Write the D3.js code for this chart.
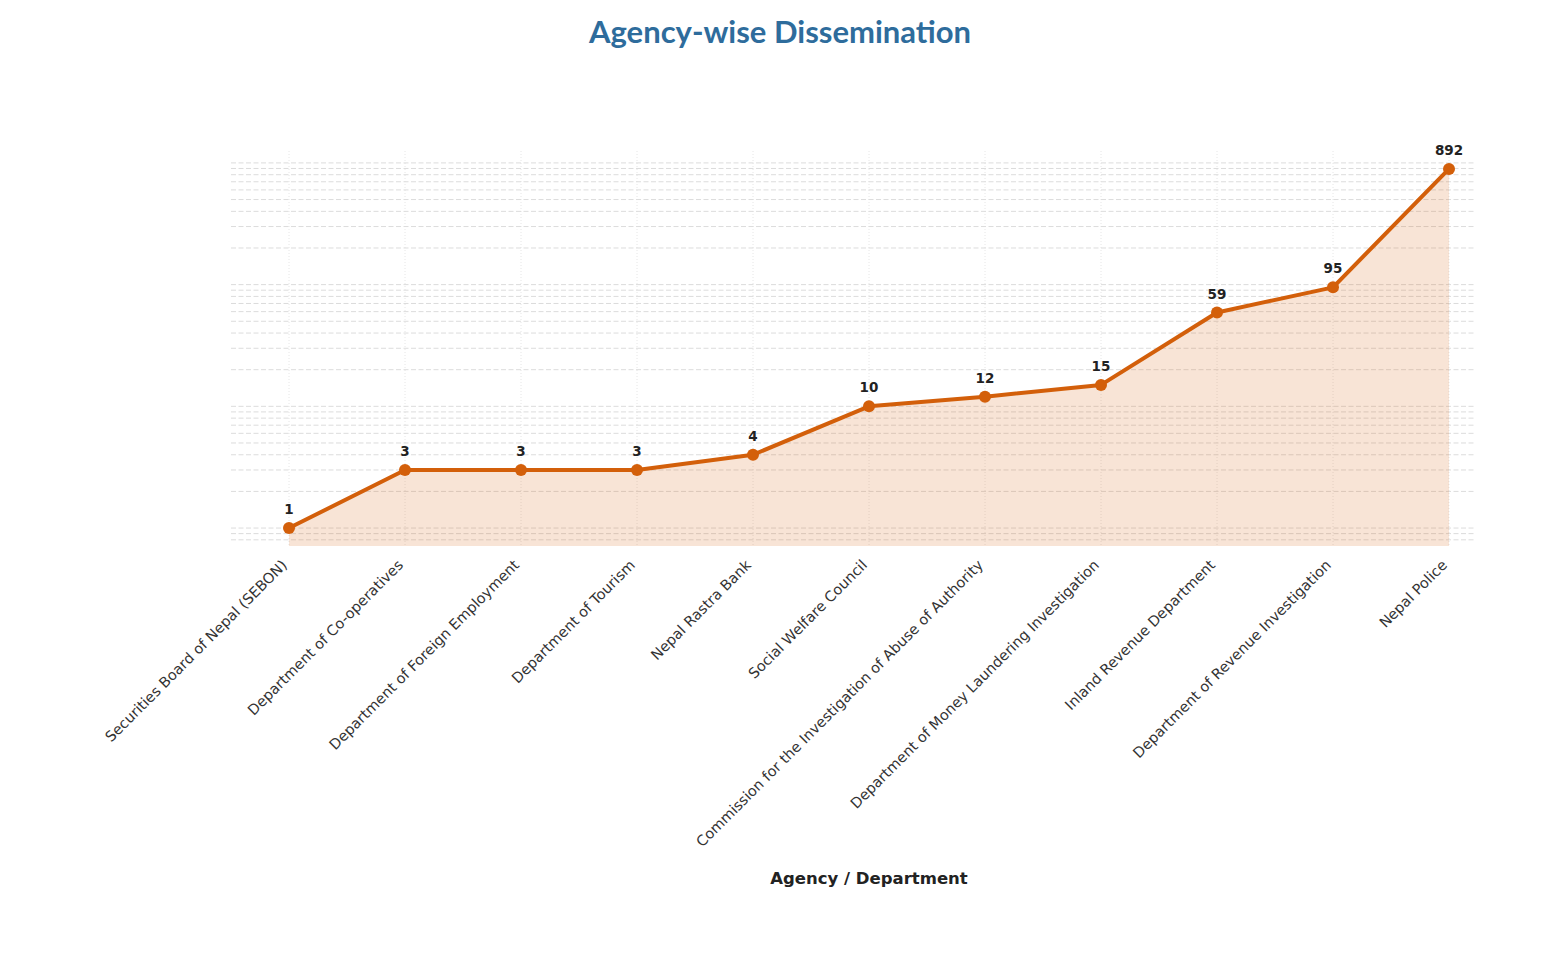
<!DOCTYPE html>
<html>
  <head>
    <title>Agency-wise Dissemination</title>
    <script src="https://d3js.org/d3.v7.min.js"></script>
    <style>
      body { margin: 0; background: #fff; }
    </style>
  </head>
  <body>
    <div id="chart"></div>
    <script>
      // data
      var agencies = [
        "Securities Board of Nepal (SEBON)",
        "Department of Co-operatives",
        "Department of Foreign Employment",
        "Department of Tourism",
        "Nepal Rastra Bank",
        "Social Welfare Council",
        "Commission for the Investigation of Abuse of Authority",
        "Department of Money Laundering Investigation",
        "Inland Revenue Department",
        "Department of Revenue Investigation",
        "Nepal Police"
      ];
      var counts = [1, 3, 3, 3, 4, 10, 12, 15, 59, 95, 892];

      var W = 1556, H = 960;
      var plotLeft = 231, plotRight = 1476, plotTop = 151, plotBottom = 546;
      var lineColor = "#d35f0a";

      var svg = d3.select("#chart").append("svg")
        .attr("width", W).attr("height", H);

      var x = d3.scaleLinear()
        .domain([-0.5, 10.5])
        .range([plotLeft, 1507]);

      // log scale with 5% margins in log space
      var lmin = 0, lmax = Math.log10(d3.max(counts));
      var pad = (lmax - lmin) * 0.05;
      var y = d3.scaleLog()
        .domain([Math.pow(10, lmin - pad), Math.pow(10, lmax + pad)])
        .range([plotBottom, plotTop]);

      // vertical grid
      svg.append("g").selectAll("line")
        .data(counts.map(function(d, i) { return i; }))
        .enter().append("line")
        .attr("x1", function(i) { return x(i); })
        .attr("x2", function(i) { return x(i); })
        .attr("y1", plotTop).attr("y2", plotBottom)
        .attr("stroke", "#e6e6e6")
        .attr("stroke-width", 1)
        .attr("stroke-dasharray", "1,2");

      // horizontal grid (major + minor log ticks)
      var gridVals = y.ticks().filter(function(v) {
        return y(v) >= plotTop && y(v) <= plotBottom;
      });
      svg.append("g").selectAll("line")
        .data(gridVals)
        .enter().append("line")
        .attr("x1", plotLeft).attr("x2", plotRight)
        .attr("y1", function(v) { return y(v); })
        .attr("y2", function(v) { return y(v); })
        .attr("stroke", "#dcdcdc")
        .attr("stroke-width", 1)
        .attr("stroke-dasharray", "5,2.5");

      // area fill
      var area = d3.area()
        .x(function(d, i) { return x(i); })
        .y0(plotBottom)
        .y1(function(d) { return y(d); });
      svg.append("path")
        .datum(counts)
        .attr("d", area)
        .attr("fill", lineColor)
        .attr("fill-opacity", 0.17);

      // line
      var line = d3.line()
        .x(function(d, i) { return x(i); })
        .y(function(d) { return y(d); });
      svg.append("path")
        .datum(counts)
        .attr("d", line)
        .attr("fill", "none")
        .attr("stroke", lineColor)
        .attr("stroke-width", 4)
        .attr("stroke-linejoin", "round");

      svg.append("g").selectAll("circle")
        .data(counts)
        .enter().append("circle")
        .attr("cx", function(d, i) { return x(i); })
        .attr("cy", function(d) { return y(d); })
        .attr("r", 6)
        .attr("fill", lineColor);

      // value labels
      svg.append("g").selectAll("text")
        .data(counts)
        .enter().append("text")
        .attr("x", function(d, i) { return x(i); })
        .attr("y", function(d) { return y(d) - 14; })
        .attr("text-anchor", "middle")
        .attr("font-family", "DejaVu Sans, sans-serif")
        .attr("font-size", "13.5px")
        .attr("font-weight", "bold")
        .attr("fill", "#222")
        .text(function(d) { return d; });

      // x tick labels
      svg.append("g").selectAll("text")
        .data(agencies)
        .enter().append("text")
        .attr("transform", function(d, i) {
          return "translate(" + (x(i) - 1) + "," + (plotBottom + 20) + ") rotate(-45)";
        })
        .attr("text-anchor", "end")
        .attr("font-family", "DejaVu Sans, sans-serif")
        .attr("font-size", "14.5px")
        .attr("fill", "#333")
        .text(function(d) { return d; });

      // axis title
      svg.append("text")
        .attr("x", 869)
        .attr("y", 884)
        .attr("text-anchor", "middle")
        .attr("font-family", "DejaVu Sans, sans-serif")
        .attr("font-size", "16.5px")
        .attr("font-weight", "bold")
        .attr("fill", "#222")
        .text("Agency / Department");

      // chart title
      svg.append("text")
        .attr("x", 780)
        .attr("y", 43)
        .attr("text-anchor", "middle")
        .attr("font-family", "Lato, 'Open Sans', sans-serif")
        .attr("font-size", "31px")
        .attr("font-weight", "bold")
        .attr("fill", "#2e6c9c")
        .text("Agency-wise Dissemination");
    </script>
  </body>
</html>
